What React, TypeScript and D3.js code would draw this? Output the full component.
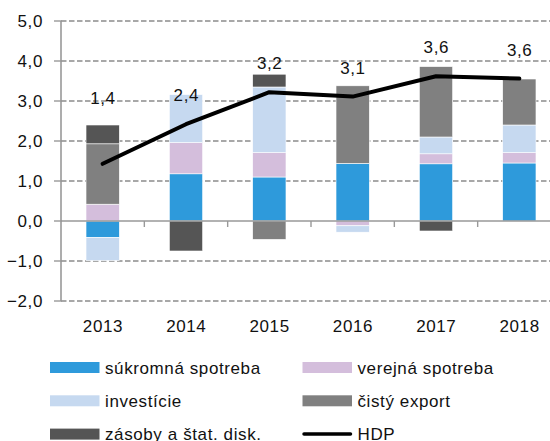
import React from "react";
import * as d3 from "d3";

const years = ["2013", "2014", "2015", "2016", "2017", "2018"];
const sukromna = [-0.41, 1.18, 1.1, 1.44, 1.43, 1.45];
const verejna = [0.42, 0.78, 0.61, -0.12, 0.25, 0.26];
const investicie = [-0.58, 1.2, 1.64, -0.16, 0.42, 0.69];
const cisty = [1.51, 0, -0.46, 1.94, 1.76, 1.15];
const zasoby = [0.47, -0.75, 0.32, 0, -0.25, 0];
const hdp = [1.43, 2.42, 3.22, 3.11, 3.62, 3.56];
const hdpLabelLift = [0.92, 0, 0, 0, 0, 0];
const yTicks = [-2, -1, 0, 1, 2, 3, 4, 5];

const seriesKeys = ["sukromna", "verejna", "investicie", "cisty", "zasoby"];
const seriesNames = ["súkromná spotreba", "verejná spotreba", "investície", "čistý export", "zásoby a štat. disk."];
const seriesColors = ["#2E9ADB", "#D4BEDC", "#C6D9F0", "#808080", "#555555"];

const W = 550;
const H = 441;
const FONT = "'Liberation Sans', Arial, Helvetica, sans-serif";

export default function App() {
  const rows = years.map((y, i) => ({
    year: y,
    sukromna: sukromna[i],
    verejna: verejna[i],
    investicie: investicie[i],
    cisty: cisty[i],
    zasoby: zasoby[i],
  }));
  const band = d3.scaleBand<string>().domain(years).range([61, 561]);
  const y = d3.scaleLinear().domain([-2, 5]).range([301, 21]);
  const stacked = d3.stack<any>().keys(seriesKeys).offset(d3.stackOffsetDiverging)(rows);
  const line = d3
    .line<number>()
    .x((_, i) => (band(years[i]) as number) + band.bandwidth() / 2)
    .y((d) => y(d));
  const fmt = (v: number) => d3.format(".1f")(v).replace(".", ",");
  const textStyle = { fontFamily: FONT, fontSize: 17, letterSpacing: 0.6, fill: "#111" } as any;
  const bw = 33.3;

  const legendItems = [0, 1, 2, 3, 4].map((i) => ({ name: seriesNames[i], color: seriesColors[i], type: "rect" }));
  legendItems.push({ name: "HDP", color: "#000", type: "line" });

  return (
    <svg width={W} height={H} style={{ position: "absolute", left: 0, top: 0, background: "#fff" }}>
      {yTicks.filter((t) => t !== 0).map((t) => (
        <line key={"g" + t} x1={61} x2={561} y1={y(t)} y2={y(t)} stroke="#8c8c8c" strokeWidth={1.3} strokeDasharray="5.5,2.5" />
      ))}
      {stacked.map((s, si) =>
        s.map((d, i) => {
          const cx = (band(years[i]) as number) + band.bandwidth() / 2;
          const y0 = y(Math.max(d[0], d[1]));
          const y1 = y(Math.min(d[0], d[1]));
          if (y1 - y0 < 0.01) return null;
          return (
            <rect key={si + "-" + i} x={cx - bw / 2} y={y0} width={bw} height={y1 - y0} fill={seriesColors[si]} stroke="#fff" strokeWidth={0.6} />
          );
        })
      )}
      <line x1={61} x2={61} y1={21} y2={301} stroke="#999" strokeWidth={1.6} />
      {yTicks.map((t) => (
        <line key={"t" + t} x1={54} x2={62} y1={y(t)} y2={y(t)} stroke="#999" strokeWidth={1.4} />
      ))}
      <line x1={61} x2={561} y1={y(0)} y2={y(0)} stroke="#999" strokeWidth={1.6} />
      {years.slice(1).map((yr) => (
        <line key={"xt" + yr} x1={band(yr) as number} x2={band(yr) as number} y1={y(0)} y2={y(0) + 6} stroke="#999" strokeWidth={1.4} />
      ))}
      {yTicks.map((t) => (
        <text key={"yl" + t} x={43} y={y(t) + 6} textAnchor="end" style={textStyle}>
          {fmt(t)}
        </text>
      ))}
      {years.map((yr) => (
        <text key={"xl" + yr} x={(band(yr) as number) + band.bandwidth() / 2 + 0.3} y={332} textAnchor="middle" style={textStyle}>
          {yr}
        </text>
      ))}
      <path d={line(hdp) as string} fill="none" stroke="#000" strokeWidth={4} strokeLinejoin="round" strokeLinecap="round" />
      {hdp.map((v, i) => (
        <text key={"hl" + i} x={(band(years[i]) as number) + band.bandwidth() / 2 + 0.3} y={y(v + hdpLabelLift[i]) - 23} textAnchor="middle" style={textStyle}>
          {fmt(v)}
        </text>
      ))}
      {legendItems.map((it, i) => {
        const col = i % 2;
        const row = Math.floor(i / 2);
        const lx = col === 0 ? 50 : 302.5;
        const cy = 367.5 + row * 33.3;
        return (
          <g key={"lg" + i}>
            {it.type === "rect" ? (
              <rect x={lx} y={cy - 5.5} width={49.5} height={11} fill={it.color} />
            ) : (
              <line x1={lx + 1.5} x2={lx + 48} y1={cy} y2={cy} stroke="#000" strokeWidth={3.5} strokeLinecap="round" />
            )}
            <text x={lx + 55} y={cy + 6} style={textStyle}>
              {it.name}
            </text>
          </g>
        );
      })}
    </svg>
  );
}
